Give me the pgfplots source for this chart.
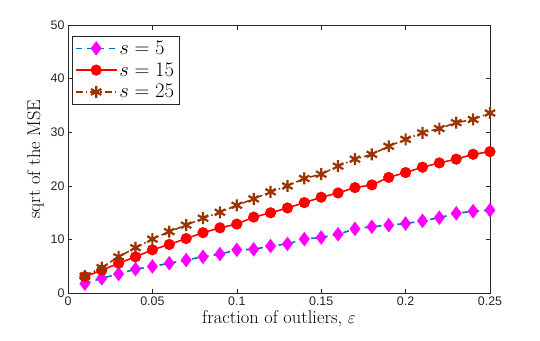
\documentclass[border=0pt]{standalone}
\usepackage{pgfplots}
\pgfplotsset{compat=1.18}
\usepackage{fontspec}
\newfontfamily\helv{Liberation Sans}

\definecolor{mblue}{rgb}{0,0.447,0.741}
\definecolor{mbrown}{rgb}{0.6,0.2,0}
\definecolor{mmag}{rgb}{1,0,1}
\definecolor{mred}{rgb}{1,0,0}
\definecolor{axgray}{rgb}{0.15,0.15,0.15}

\begin{document}
\begin{tikzpicture}
\path[use as bounding box] (-68bp,-47.7bp) rectangle (472bp,293.3bp);
\begin{axis}[
    anchor=origin, at={(0,0)},
    scale only axis,
    width=422bp, height=268.3bp,
    xmin=0, xmax=0.25, ymin=0, ymax=50,
    xtick={0,0.05,...,0.25},
    xticklabels={0,0.05,0.1,0.15,0.2,0.25},
    ytick={0,10,...,50},
    tick align=inside,
    major tick length=4.5bp,
    axis line style={axgray, line width=0.6pt},
    every tick/.style={axgray, line width=0.6pt},
    /pgf/number format/assume math mode=true,
    tick label style={font=\helv\fontsize{12.5}{12.5}\selectfont, text=axgray},
    xlabel={fraction of outliers, $\varepsilon$},
    ylabel={sqrt of the MSE},
    label style={font=\fontsize{18.5}{20}\selectfont},
    xlabel style={yshift=2bp},
    legend style={at={(0.009,0.96)}, anchor=north west, draw=axgray,
        font=\fontsize{20.5}{22}\selectfont, row sep=3bp, inner sep=3pt},
    legend cell align=left,
    legend image code/.code={
        \draw[mark repeat=2,mark phase=2,#1] plot coordinates {(0cm,0cm) (0.72cm,0cm) (1.44cm,0cm)};
    },
]
\addplot[mblue, line width=1.6pt, dash pattern=on 6bp off 5bp, mark=diamond*,
    mark size=7pt, mark options={solid, fill=mmag, draw=mmag, line width=0.3pt}]
coordinates {
(0.01,1.8) (0.02,2.8) (0.03,3.6) (0.04,4.5) (0.05,5.0) (0.06,5.6) (0.07,6.2)
(0.08,6.8) (0.09,7.3) (0.10,8.1) (0.11,8.2) (0.12,8.8) (0.13,9.2) (0.14,10.1)
(0.15,10.4) (0.16,11.0) (0.17,12.0) (0.18,12.4) (0.19,12.7) (0.20,13.0)
(0.21,13.5) (0.22,14.1) (0.23,14.9) (0.24,15.3) (0.25,15.5)
};
\addlegendentry{$s=5$}
\addplot[mred, line width=1.6pt, mark=*, mark size=4.8pt, mark options={solid, fill=mred}]
coordinates {
(0.01,3.1) (0.02,4.3) (0.03,5.6) (0.04,6.8) (0.05,8.1) (0.06,9.1) (0.07,10.2)
(0.08,11.3) (0.09,12.2) (0.10,12.9) (0.11,14.2) (0.12,15.0) (0.13,15.9) (0.14,16.9)
(0.15,17.9) (0.16,18.7) (0.17,19.7) (0.18,20.2) (0.19,21.6) (0.20,22.5)
(0.21,23.5) (0.22,24.3) (0.23,25.0) (0.24,25.9) (0.25,26.4)
};
\addlegendentry{$s=15$}
\addplot[mbrown, line width=1.6pt, dash pattern=on 7bp off 3bp on 1.5bp off 3bp,
    mark=asterisk, mark size=6pt, mark options={solid, line width=2.2pt}]
coordinates {
(0.01,3.2) (0.02,4.8) (0.03,6.8) (0.04,8.5) (0.05,10.1) (0.06,11.5) (0.07,12.7)
(0.08,14.0) (0.09,15.1) (0.10,16.4) (0.11,17.6) (0.12,18.9) (0.13,20.0) (0.14,21.4)
(0.15,22.2) (0.16,23.7) (0.17,25.0) (0.18,25.9) (0.19,27.4) (0.20,28.7)
(0.21,29.9) (0.22,30.7) (0.23,31.8) (0.24,32.4) (0.25,33.6)
};
\addlegendentry{$s=25$}
\end{axis}
\end{tikzpicture}
\end{document}
